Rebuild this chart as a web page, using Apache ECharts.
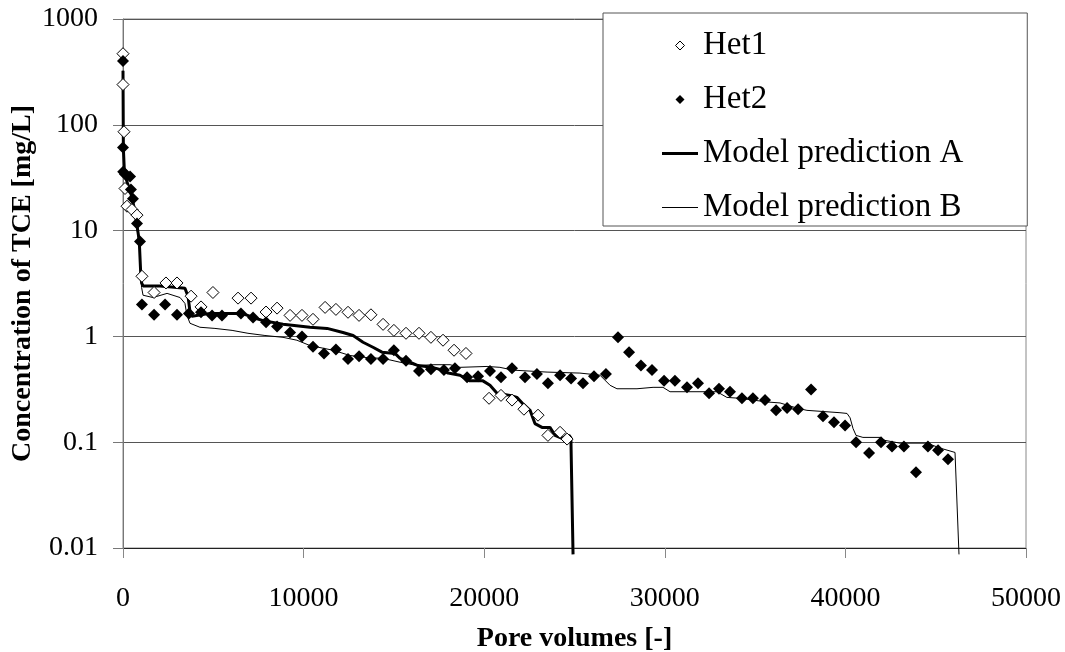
<!DOCTYPE html>
<html>
<head>
<meta charset="utf-8">
<script src="https://cdn.jsdelivr.net/npm/echarts@6/dist/echarts.min.js"></script>
<style>
  html, body { margin: 0; padding: 0; background: #fff; }
  #chart { width: 1065px; height: 652px; }
</style>
</head>
<body>
<div id="chart"></div>
<script>
// measured data (pore volumes vs TCE concentration, mg/L)
var het1X = [0, 0, 55, 111, 221, 498, 775, 1050, 1720, 2380, 2990, 3770, 4320, 4980, 6370, 7090, 7920, 8530, 9250, 9910, 10520, 11190, 11790, 12460, 13070, 13730, 14400, 15000, 15670, 16390, 17050, 17720, 18330, 18990, 20270, 20930, 21540, 22200, 22980, 23530, 24200, 24590];
var het1Y = [470, 240, 86, 25, 17, 15.8, 14, 3.7, 2.6, 3.2, 3.2, 2.4, 1.9, 2.6, 2.3, 2.3, 1.7, 1.85, 1.58, 1.58, 1.45, 1.88, 1.8, 1.69, 1.58, 1.6, 1.3, 1.14, 1.07, 1.07, 0.98, 0.92, 0.74, 0.69, 0.26, 0.277, 0.25, 0.205, 0.18, 0.116, 0.124, 0.107];

var het2X = [0, 0, 10, 111, 390, 440, 550, 775, 940, 1050, 1720, 2330, 2990, 3650, 4320, 4930, 5480, 6530, 7200, 7920, 8530, 9250, 9910, 10520, 11130, 11790, 12460, 13070, 13730, 14400, 15000, 15670, 16390, 17050, 17770, 18380, 19050, 19660, 20320, 20930, 21540, 22260, 22920, 23530, 24200, 24810, 25470, 26080, 26740, 27410, 28020, 28680, 29290, 29960, 30560, 31230, 31840, 32450, 33000, 33610, 34270, 34880, 35550, 36160, 36770, 37380, 38100, 38760, 39370, 39980, 40590, 41310, 41970, 42580, 43240, 43910, 44570, 45130, 45680];
var het2Y = [400, 61, 36, 34, 32.5, 24.5, 20, 11.7, 7.9, 2.0, 1.6, 2.0, 1.6, 1.65, 1.69, 1.58, 1.58, 1.65, 1.51, 1.36, 1.24, 1.09, 1.0, 0.8, 0.69, 0.75, 0.61, 0.65, 0.61, 0.61, 0.74, 0.59, 0.47, 0.49, 0.48, 0.5, 0.41, 0.42, 0.47, 0.41, 0.5, 0.41, 0.44, 0.36, 0.43, 0.4, 0.36, 0.42, 0.44, 0.98, 0.71, 0.53, 0.48, 0.38, 0.38, 0.33, 0.36, 0.29, 0.32, 0.3, 0.26, 0.26, 0.25, 0.2, 0.21, 0.205, 0.315, 0.176, 0.154, 0.144, 0.1, 0.079, 0.1, 0.091, 0.091, 0.052, 0.091, 0.084, 0.069];

// model curves
var modelAX = [0, 20, 80, 250, 450, 600, 750, 900, 980, 1030, 1110, 2050, 2990, 3430, 3600, 3710, 3820, 4820, 6590, 7200, 7750, 8860, 10350, 11300, 12180, 12740, 13290, 13840, 14340, 15060, 15340, 15890, 16330, 17110, 17720, 18000, 18660, 19210, 19930, 20320, 20710, 21430, 21820, 22150, 22540, 22810, 23200, 23640, 23920, 24310, 24700, 24800, 24920];
var modelAY = [325, 60, 35, 28, 22, 17, 12, 8, 4, 3.2, 3.0, 3.0, 2.9, 2.85, 2.4, 1.7, 1.55, 1.65, 1.65, 1.51, 1.41, 1.3, 1.22, 1.19, 1.09, 1.02, 0.88, 0.79, 0.71, 0.69, 0.62, 0.57, 0.53, 0.51, 0.48, 0.45, 0.43, 0.38, 0.38, 0.345, 0.29, 0.277, 0.265, 0.23, 0.2, 0.15, 0.138, 0.138, 0.116, 0.109, 0.116, 0.11, 0.0087];

var modelBX = [0, 20, 80, 250, 450, 600, 750, 900, 980, 1030, 1110, 1660, 2440, 3160, 3430, 3540, 3710, 4260, 5090, 6040, 6920, 7860, 8860, 9630, 10350, 11630, 12570, 13510, 14400, 15340, 16280, 17170, 18110, 18660, 20160, 20870, 21590, 23480, 25300, 26410, 26970, 27350, 28460, 29350, 29900, 30290, 32890, 33440, 34160, 35660, 36380, 37320, 37870, 39700, 40090, 40260, 40420, 40590, 40970, 41920, 42190, 43020, 44520, 45240, 46070, 46120, 46290];
var modelBY = [325, 60, 34, 27, 21, 16, 11, 7.5, 3.6, 2.9, 2.45, 2.33, 2.55, 2.33, 2.05, 1.58, 1.33, 1.22, 1.19, 1.14, 1.07, 1.02, 0.98, 0.92, 0.82, 0.74, 0.66, 0.63, 0.62, 0.57, 0.53, 0.54, 0.54, 0.51, 0.52, 0.51, 0.48, 0.46, 0.45, 0.43, 0.345, 0.32, 0.32, 0.33, 0.33, 0.3, 0.3, 0.265, 0.26, 0.24, 0.235, 0.21, 0.2, 0.19, 0.187, 0.17, 0.135, 0.116, 0.111, 0.111, 0.104, 0.098, 0.098, 0.088, 0.08, 0.079, 0.0087];

var yTicks = [0.01, 0.1, 1, 10, 100, 1000];

function pairs(xs, ys) {
  return xs.map(function (x, i) { return [x, ys[i]]; });
}

var font = "'Liberation Serif', 'Times New Roman', serif";
// legend icons: small diamond, thick and thin line segments
var diamondIcon = 'path://M5,0 L10,5 L5,10 L0,5 Z';
var thickIcon = 'path://M0,0 L36,0 L36,3 L0,3 Z';
var thinIcon = 'path://M0,0 L36,0 L36,1 L0,1 Z';

var chart = echarts.init(document.getElementById('chart'));
var option = {
  animation: false,
  backgroundColor: '#fff',
  grid: {
    left: 123, right: 39, top: 19, bottom: 104,
    containLabel: false,
    outerBoundsMode: 'none',
    show: true, borderColor: '#888', borderWidth: 1
  },
  legend: {
    orient: 'vertical',
    left: 603, top: 13,
    padding: [16, 64, 2, 59],
    itemGap: 21,
    itemWidth: 36,
    itemHeight: 9,
    symbolKeepAspect: true,
    backgroundColor: '#fff',
    borderColor: '#555',
    borderWidth: 1,
    borderRadius: 0,
    textStyle: { fontFamily: font, fontSize: 33, color: '#000', lineHeight: 33 },
    data: [
      { name: 'Het1', icon: diamondIcon, itemStyle: { color: '#fff', borderColor: '#000', borderWidth: 1, opacity: 1 } },
      { name: 'Het2', icon: diamondIcon, itemStyle: { color: '#000', borderWidth: 0, opacity: 1 } },
      { name: 'Model prediction A', icon: thickIcon, itemStyle: { color: '#000', borderWidth: 0 } },
      { name: 'Model prediction B', icon: thinIcon, itemStyle: { color: '#000', borderWidth: 0 } }
    ]
  },
  xAxis: {
    type: 'value',
    min: 0, max: 50000, interval: 10000,
    name: 'Pore volumes [-]',
    nameLocation: 'middle',
    nameGap: 77,
    nameMoveOverlap: false,
    nameTextStyle: { fontFamily: font, fontSize: 28, fontWeight: 'bold', color: '#000' },
    axisLine: { show: true, onZero: false, lineStyle: { color: '#222', width: 1 } },
    axisTick: { show: true, inside: false, length: 10, lineStyle: { color: '#888' } },
    axisLabel: {
      fontFamily: font, fontSize: 28, color: '#000', margin: 37,
      formatter: function (v) { return String(v); }
    },
    splitLine: { show: false }
  },
  yAxis: {
    type: 'log',
    logBase: 10,
    min: 0.01, max: 1000,
    name: 'Concentration of TCE [mg/L]',
    nameLocation: 'middle',
    nameGap: 86,
    nameMoveOverlap: false,
    nameTextStyle: { fontFamily: font, fontSize: 28, fontWeight: 'bold', color: '#000' },
    axisLine: { show: true, lineStyle: { color: '#777', width: 1 } },
    axisTick: { show: true, inside: false, length: 10, lineStyle: { color: '#777' } },
    axisLabel: {
      fontFamily: font, fontSize: 28, color: '#000', margin: 25,
      formatter: function (v) { return String(yTicks.find(function (t) { return Math.abs(t - v) / t < 1e-6; }) || v); }
    },
    splitLine: { show: true, lineStyle: { color: '#555', width: 1 } },
    minorTick: { show: false }
  },
  series: [
    {
      name: 'Model prediction B',
      type: 'line',
      data: pairs(modelBX, modelBY),
      symbol: 'none',
      clip: false,
      color: '#000',
      lineStyle: { color: '#000', width: 1 },
      z: 3
    },
    {
      name: 'Model prediction A',
      type: 'line',
      data: pairs(modelAX, modelAY),
      symbol: 'none',
      clip: false,
      color: '#000',
      lineStyle: { color: '#000', width: 3 },
      z: 4
    },
    {
      name: 'Het1',
      type: 'scatter',
      data: pairs(het1X, het1Y),
      symbol: 'diamond',
      symbolSize: 12,
      itemStyle: { color: '#fff', borderColor: '#000', borderWidth: 1, opacity: 1 },
      z: 5
    },
    {
      name: 'Het2',
      type: 'scatter',
      data: pairs(het2X, het2Y),
      symbol: 'diamond',
      symbolSize: 12,
      itemStyle: { color: '#000', opacity: 1 },
      z: 6
    }
  ]
};
chart.setOption(option);
</script>
</body>
</html>
